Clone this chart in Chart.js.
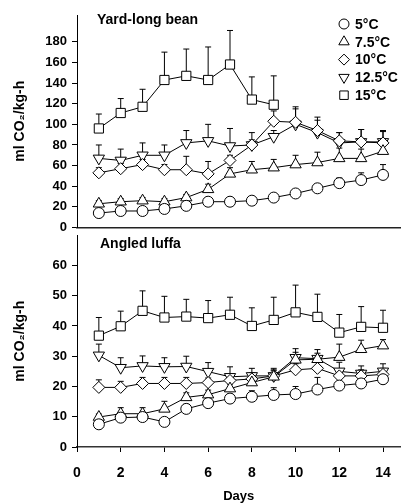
<!DOCTYPE html>
<html>
<head>
<meta charset="utf-8">
<script src="https://cdn.jsdelivr.net/npm/chart.js@4.4.1/dist/chart.umd.min.js"></script>
<style>
  body { margin: 0; background: #fff; }
  #wrap { position: relative; width: 408px; height: 504px; }
  #topChart { position: absolute; left: 0; top: 0; }
  #bottomChart { position: absolute; left: 0; top: 228px; }
</style>
</head>
<body>
<div id="wrap">
  <canvas id="topChart" width="408" height="235"></canvas>
  <canvas id="bottomChart" width="408" height="276"></canvas>
</div>
<script>
// days of storage
const days = [1, 2, 3, 4, 5, 6, 7, 8, 9, 10, 11, 12, 13, 14];
const seriesLabels = ['5°C', '7.5°C', '10°C', '12.5°C', '15°C'];

// Yard-long bean (ml CO2/kg-h)
const bean5 = [14, 16, 16, 18, 21, 25, 25, 26, 29, 33, 38, 43, 46, 51];
const bean75 = [23, 25, 26, 25, 29, 37, 52, 56, 58, 61, 63, 67, 67, 74];
const bean10 = [53, 57, 61, 56, 56, 52, 65, 80, 103, 102, 94, 84, 83, 82];
const bean125 = [67, 65, 70, 70, 82, 84, 79, 80, 88, 100, 92, 82, 83, 83];
const bean15 = [96, 111, 117, 143, 147, 143, 158, 124, 119, null, null, null, null, null];
// upper error bars
const beanErr5 = [2, 2, 2, 2, 2, 2, 2, 2, 2, 3, 4, 5, 7, 10];
const beanErr75 = [3, 3, 3, 3, 3, 5, 6, 8, 8, 9, 10, 10, 9, 8];
const beanErr10 = [5, 5, 5, 5, 13, 12, 5, 5, 10, 15, 13, 8, 12, 11];
const beanErr125 = [13, 11, 12, 10, 12, 16, 17, 12, 6, 15, 12, 10, 12, 11];
const beanErr15 = [14, 14, 17, 27, 26, 32, 33, 22, 28, null, null, null, null, null];

// Angled luffa (ml CO2/kg-h)
const luffa5 = [7.5, 9.7, 9.9, 8.3, 12.6, 14.5, 16, 16.6, 17.2, 17.5, 19, 20.3, 21, 22.4];
const luffa75 = [9.9, 11, 11, 12.6, 16.4, 17.3, 19.3, 21.3, 23.2, 28.8, 29, 29.7, 32.3, 33.5];
const luffa10 = [19.7, 19.7, 21, 21, 21, 21.3, 22, 22.5, 23.5, 25.5, 26, 23.5, 23.5, 24];
const luffa125 = [30.3, 26.2, 26.8, 26.5, 26.6, 24.9, 23.2, 23.5, 23.5, 29.5, 29.2, 25, 24.3, 25];
const luffa15 = [36.8, 39.9, 45, 42.8, 43.1, 42.6, 43.7, 40, 42, 44.5, 43, 37.8, 39.7, 39.4];
const luffaErr5 = [1, 1, 1, 1, 1.5, 1.5, 1.5, 2, 2.4, 2.5, 4, 3, 1.5, 1.5];
const luffaErr75 = [1, 2, 2, 2.5, 1.5, 1.5, 1.5, 2, 2, 2.5, 2, 4.3, 3, 2];
const luffaErr10 = [2.5, 2, 2, 2, 2, 1.5, 1.5, 2, 2, 2, 2, 2, 2, 2];
const luffaErr125 = [3.7, 3.3, 3.3, 3, 3.4, 3, 3.3, 2.5, 2.5, 3, 3, 3, 2.5, 2.5];
const luffaErr15 = [6, 5, 6.6, 7, 5.7, 5.8, 5.8, 6, 7.5, 9, 7.5, 6, 6.7, 5.8];

const beanTicksY = [0, 20, 40, 60, 80, 100, 120, 140, 160, 180];
const luffaTicksY = [0, 10, 20, 30, 40, 50, 60];
const ticksX = [0, 2, 4, 6, 8, 10, 12, 14];

const FONT = "'Liberation Sans', Arial, Helvetica, sans-serif";
Chart.defaults.font.family = FONT;
Chart.defaults.font.weight = 'bold';
Chart.defaults.font.size = 13;
Chart.defaults.color = '#000';

const markers = [
  { pointStyle: 'circle', radius: 5.5, rotation: 0 },
  { pointStyle: 'triangle', radius: 6.5, rotation: 0 },
  { pointStyle: 'rectRot', radius: 6, rotation: 0 },
  { pointStyle: 'triangle', radius: 6.5, rotation: 180 },
  { pointStyle: 'rect', radius: 6.5, rotation: 0 }
];

function makeDatasets(seriesList) {
  return seriesList.map((vals, i) => ({
    label: seriesLabels[i],
    data: days.map((d, j) => ({ x: d, y: vals[j] })),
    borderColor: '#000',
    borderWidth: 1,
    backgroundColor: '#fff',
    pointStyle: markers[i].pointStyle,
    pointRadius: markers[i].radius,
    pointRotation: markers[i].rotation,
    pointBorderColor: '#000',
    pointBackgroundColor: '#fff',
    pointBorderWidth: 1,
    tension: 0,
    spanGaps: false
  }));
}

// upper error bars, drawn under the markers
const errorBars = {
  id: 'errorBars',
  beforeDatasetsDraw(chart, args, opts) {
    const { ctx, scales: { x, y } } = chart;
    ctx.save();
    ctx.strokeStyle = '#000';
    ctx.lineWidth = 1;
    opts.errors.forEach((errs, i) => {
      const vals = opts.values[i];
      errs.forEach((e, j) => {
        const v = vals[j];
        if (v == null || !e) return;
        const px = x.getPixelForValue(days[j]);
        const y0 = y.getPixelForValue(v);
        const y1 = y.getPixelForValue(v + e);
        ctx.beginPath();
        ctx.moveTo(px, y0);
        ctx.lineTo(px, y1);
        ctx.moveTo(px - 3, y1);
        ctx.lineTo(px + 3, y1);
        ctx.stroke();
      });
    });
    ctx.restore();
  }
};

// panel name inside the plot
const panelTitle = {
  id: 'panelTitle',
  afterDraw(chart, args, opts) {
    const { ctx, chartArea } = chart;
    ctx.save();
    ctx.font = 'bold 14px ' + FONT;
    ctx.fillStyle = '#000';
    ctx.textBaseline = 'middle';
    ctx.textAlign = 'left';
    ctx.fillText(opts.text, chartArea.left + opts.dx, chartArea.top + opts.dy);
    ctx.restore();
  }
};

// legend in the top right corner of the upper panel
const innerLegend = {
  id: 'innerLegend',
  afterDraw(chart, args, opts) {
    if (!opts.show) return;
    const { ctx } = chart;
    ctx.save();
    chart.data.datasets.forEach((ds, i) => {
      const y = opts.y + i * opts.step;
      ctx.fillStyle = '#fff';
      ctx.strokeStyle = '#000';
      ctx.lineWidth = 1;
      Chart.helpers.drawPoint(ctx, {
        pointStyle: ds.pointStyle,
        radius: ds.pointRadius - 0.5,
        rotation: ds.pointRotation,
        borderWidth: 1
      }, opts.x, y);
      ctx.fillStyle = '#000';
      ctx.font = 'bold 14px ' + FONT;
      ctx.textBaseline = 'middle';
      ctx.textAlign = 'left';
      ctx.fillText(ds.label, opts.x + 11, y + 1);
    });
    ctx.restore();
  }
};

function yAxis(max, tickList) {
  return {
    type: 'linear',
    min: 0,
    max: max,
    afterBuildTicks: (scale) => { scale.ticks = tickList.map(v => ({ value: v })); },
    afterFit: (scale) => {
      scale.width = 77;
      scale.paddingTop = 0;
      scale.paddingBottom = 0;
    },
    ticks: { padding: 5, font: { size: 13, weight: 'bold' }, color: '#000' },
    grid: { display: true, drawOnChartArea: false, drawTicks: true, tickLength: 5, color: '#000' },
    border: { display: true, color: '#000', width: 1 },
    title: {
      display: true,
      text: 'ml CO₂/kg-h',
      font: { size: 14, weight: 'bold' },
      color: '#000',
      padding: { top: 12, bottom: 0 }
    }
  };
}

function fixX(height) {
  return (scale) => {
    scale.height = height;
    scale.paddingLeft = 0;
    scale.paddingRight = 0;
  };
}

new Chart(document.getElementById('topChart'), {
  type: 'line',
  data: { datasets: makeDatasets([bean5, bean75, bean10, bean125, bean15]) },
  options: {
    responsive: false,
    animation: false,
    layout: { padding: { top: 15, left: 0, right: 0, bottom: 0 } },
    scales: {
      x: {
        type: 'linear',
        min: 0,
        max: 14.8,
        afterFit: fixX(3),
        ticks: { display: false },
        grid: { display: false },
        border: { display: true, color: '#222', width: 1.5 }
      },
      y: yAxis(206, beanTicksY)
    },
    plugins: {
      legend: { display: false },
      tooltip: { enabled: false },
      errorBars: { values: [bean5, bean75, bean10, bean125, bean15],
                   errors: [beanErr5, beanErr75, beanErr10, beanErr125, beanErr15] },
      panelTitle: { text: 'Yard-long bean', dx: 20, dy: 5 },
      innerLegend: { show: true, x: 344, y: 24, step: 17.8 }
    }
  },
  plugins: [errorBars, panelTitle, innerLegend]
});

new Chart(document.getElementById('bottomChart'), {
  type: 'line',
  data: { datasets: makeDatasets([luffa5, luffa75, luffa10, luffa125, luffa15]) },
  options: {
    responsive: false,
    animation: false,
    layout: { padding: { top: 1, left: 0, right: 0, bottom: 0 } },
    scales: {
      x: {
        type: 'linear',
        min: 0,
        max: 14.8,
        afterBuildTicks: (scale) => { scale.ticks = ticksX.map(v => ({ value: v })); },
        afterFit: fixX(57),
        ticks: { padding: 13, font: { size: 14, weight: 'bold' }, color: '#000', maxRotation: 0 },
        grid: { display: true, drawOnChartArea: false, drawTicks: true, tickLength: 5, color: '#000' },
        border: { display: true, color: '#333', width: 1.5 },
        title: {
          display: true,
          text: 'Days',
          font: { size: 13, weight: 'bold' },
          color: '#000',
          padding: { top: 0, bottom: 0 }
        }
      },
      y: yAxis(69.9, luffaTicksY)
    },
    plugins: {
      legend: { display: false },
      tooltip: { enabled: false },
      errorBars: { values: [luffa5, luffa75, luffa10, luffa125, luffa15],
                   errors: [luffaErr5, luffaErr75, luffaErr10, luffaErr125, luffaErr15] },
      panelTitle: { text: 'Angled luffa', dx: 23, dy: 9 },
      innerLegend: { show: false }
    }
  },
  plugins: [errorBars, panelTitle, innerLegend]
});
</script>
</body>
</html>
